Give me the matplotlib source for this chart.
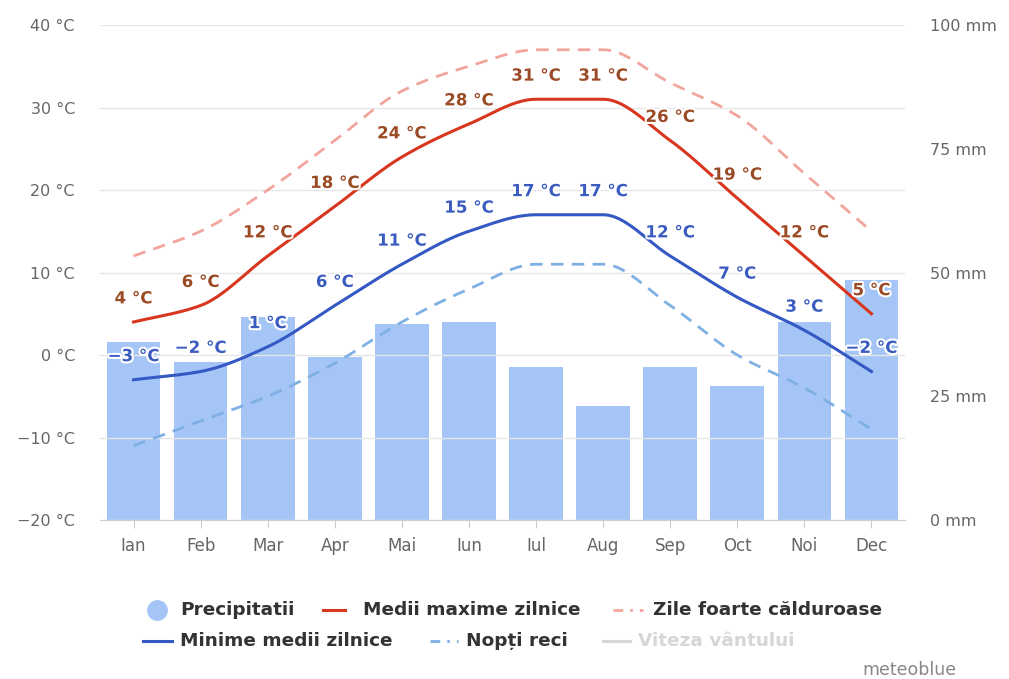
import numpy as np
import matplotlib.pyplot as plt
import matplotlib.patheffects as pe
from matplotlib.lines import Line2D

# Climate data
months = ['Ian', 'Feb', 'Mar', 'Apr', 'Mai', 'Iun', 'Iul', 'Aug', 'Sep', 'Oct', 'Noi', 'Dec']
precip = [36, 32, 41, 33, 39.5, 40, 31, 23, 31, 27, 40, 48.5]          # mm
t_max = [4, 6, 12, 18, 24, 28, 31, 31, 26, 19, 12, 5]                   # °C
t_min = [-3, -2, 1, 6, 11, 15, 17, 17, 12, 7, 3, -2]                   # °C
hot_days = [12, 15, 20, 26, 32, 35, 37, 37, 33, 29, 22, 15]             # °C
cold_nights = [-11, -8, -5, -1, 4, 8, 11, 11, 6, 0, -4, -9]             # °C

C_BAR = '#a6c5f7'
C_MAX = '#d8361e'
C_MIN = '#3458c4'
C_HOT = '#f2a59c'
C_COLD = '#7eb0e3'
C_MAXLBL = '#9a4a24'
C_MINLBL = '#3a5cc0'
C_TXT = '#666666'


def smooth(y, n=24):
    # monotone cubic (Fritsch-Carlson) only for drawing the curve
    y = np.asarray(y, float)
    x = np.arange(len(y))
    d = np.diff(y)
    m = np.zeros(len(y))
    m[0], m[-1] = d[0], d[-1]
    for k in range(1, len(y) - 1):
        if d[k - 1] * d[k] > 0:
            m[k] = 2 / (1 / d[k - 1] + 1 / d[k])
    xs, ys = [], []
    for k in range(len(y) - 1):
        t = np.linspace(0, 1, n, endpoint=False)
        h00 = 2 * t**3 - 3 * t**2 + 1
        h10 = t**3 - 2 * t**2 + t
        h01 = -2 * t**3 + 3 * t**2
        h11 = t**3 - t**2
        xs.append(x[k] + t)
        ys.append(h00 * y[k] + h10 * m[k] + h01 * y[k + 1] + h11 * m[k + 1])
    xs.append([x[-1]])
    ys.append([y[-1]])
    return np.concatenate(xs), np.concatenate(ys)


fig = plt.figure(figsize=(10.09, 6.79), dpi=100)
ax = fig.add_axes([100 / 1009, 1 - 520 / 679, 805 / 1009, 495 / 679])
ax2 = ax.twinx()

x = np.arange(len(months))

# precipitation bars on the mm axis
ax2.bar(x, precip, width=0.8, color=C_BAR, zorder=1)
ax2.set_ylim(0, 100)
ax2.set_yticks([0, 25, 50, 75, 100])
ax2.set_yticklabels([f'{v} mm' for v in [0, 25, 50, 75, 100]])

# temperature lines on the °C axis, drawn on top
ax.set_zorder(ax2.get_zorder() + 1)
ax.patch.set_visible(False)
ax.set_ylim(-20, 40)
ax.set_xlim(-0.5, 11.5)

dash = (4.5, 3)
sx, sy = smooth(hot_days)
ax.plot(sx, sy, color=C_HOT, lw=2, dashes=dash)
sx, sy = smooth(cold_nights)
ax.plot(sx, sy, color=C_COLD, lw=2, dashes=dash)
sx, sy = smooth(t_max)
ax.plot(sx, sy, color=C_MAX, lw=2.2)
sx, sy = smooth(t_min)
ax.plot(sx, sy, color=C_MIN, lw=2.2)

halo = [pe.withStroke(linewidth=3, foreground='white')]
for i in range(len(months)):
    ax.annotate(f'{t_max[i]} °C'.replace('-', '−'), (x[i], t_max[i]), xytext=(0, 17),
                textcoords='offset points', ha='center', va='center',
                fontsize=12, fontweight='bold', color=C_MAXLBL, path_effects=halo)
    ax.annotate(f'{t_min[i]} °C'.replace('-', '−'), (x[i], t_min[i]), xytext=(0, 17),
                textcoords='offset points', ha='center', va='center',
                fontsize=12, fontweight='bold', color=C_MINLBL, path_effects=halo)

# axes styling
ax.set_yticks(range(-20, 41, 10))
ax.set_yticklabels([f'{v} °C'.replace('-', '−') for v in range(-20, 41, 10)])
ax.set_xticks(x)
ax.set_xticklabels(months)
ax.grid(axis='y', color='#e6e6e6', lw=1)
ax.set_axisbelow(True)
for a in (ax, ax2):
    for s in a.spines.values():
        s.set_visible(False)
ax.spines['bottom'].set_visible(True)
ax.spines['bottom'].set_color('#cccccc')
ax.tick_params(axis='y', length=0, pad=18, labelsize=11.5, labelcolor=C_TXT)
ax.tick_params(axis='x', length=6, color='#cccccc', pad=6, labelsize=12, labelcolor=C_TXT)
ax2.tick_params(axis='y', length=0, pad=18, labelsize=11.5, labelcolor=C_TXT)

# legend, laid out by hand like the original
W, H = 1009, 679
y1 = 1 - 610 / H
y2 = 1 - 641 / H
lf = dict(fontsize=13.3, fontweight='bold', va='center', color='#333333')
fig.add_artist(Line2D([157 / W], [y1], marker='o', ms=14, color=C_BAR, lw=0))
fig.text(180 / W, y1, 'Precipitatii', **lf)
fig.add_artist(Line2D([323 / W, 345 / W], [y1, y1], color=C_MAX, lw=2.2))
fig.text(363 / W, y1, 'Medii maxime zilnice', **lf)
fig.add_artist(Line2D([613 / W, 643 / W], [y1, y1], color=C_HOT, lw=2, dashes=(3.5, 2.5, 1, 2.5)))
fig.text(653 / W, y1, 'Zile foarte călduroase', **lf)
fig.add_artist(Line2D([143 / W, 172 / W], [y2, y2], color=C_MIN, lw=2.2))
fig.text(180 / W, y2, 'Minime medii zilnice', **lf)
fig.add_artist(Line2D([430 / W, 458 / W], [y2, y2], color=C_COLD, lw=2, dashes=(3.5, 2.5, 1, 2.5)))
fig.text(466 / W, y2, 'Nopți reci', **lf)
fig.add_artist(Line2D([603 / W, 630 / W], [y2, y2], color='#d6d6d6', lw=2.2))
fig.text(638 / W, y2, 'Viteza vântului', fontsize=13.3, fontweight='bold', va='center', color='#d6d6d6')
fig.text(957 / W, 1 - 670 / H, 'meteoblue', fontsize=12.5, ha='right', va='center', color='#888888')

fig.savefig('out.png', dpi=100)
